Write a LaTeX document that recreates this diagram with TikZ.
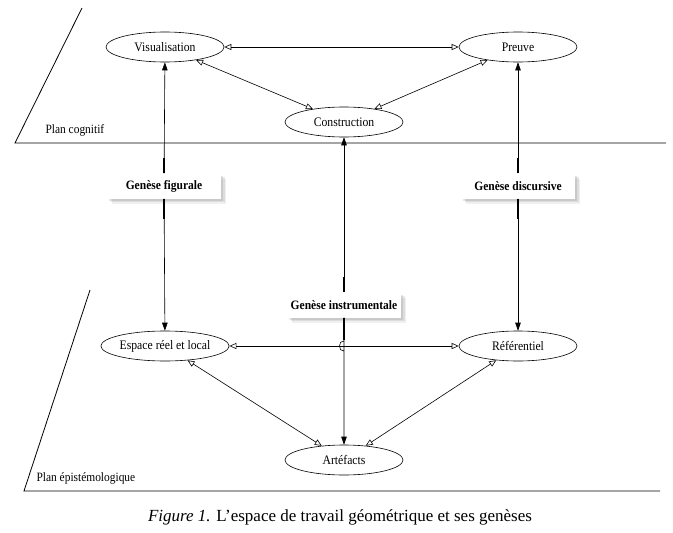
\documentclass[tikz,border=0pt]{standalone}
\usepackage{fontspec}
\setmainfont{Liberation Serif}
\newfontfamily\narrowserif[FakeStretch=0.9]{Liberation Serif}
\usetikzlibrary{shapes.geometric,arrows.meta,shadows}

\begin{document}
\begin{tikzpicture}[x=1pt,y=-1pt,
pole/.style={draw,ellipse,line width=.6pt,minimum width=118pt,minimum height=30pt,inner sep=0pt,font=\narrowserif\fontsize{13}{15}\selectfont},
genese/.style={fill=white,minimum width=114pt,minimum height=25pt,inner sep=0pt,font=\narrowserif\bfseries\fontsize{12.8}{15}\selectfont,
  drop shadow={opacity=.12,shadow xshift=5pt,shadow yshift=-5pt},
  drop shadow={opacity=.18,shadow xshift=3.5pt,shadow yshift=-3.5pt},
  drop shadow={opacity=.2,shadow xshift=2pt,shadow yshift=-2pt}},
lien/.style={line width=.6pt,{Triangle[open,length=7pt,width=6pt]}-{Triangle[open,length=7pt,width=6pt]}},
gen/.style={line width=.6pt,-{Triangle[length=8pt,width=5.5pt]}},
plan/.style={line width=.8pt},
planlabel/.style={anchor=west,font=\narrowserif\fontsize{12.7}{15}\selectfont}]
\useasboundingbox (0,0) rectangle (673,533);
%Plans
\draw[plan] (82,8) -- (15,143) -- (666,143);
\node[planlabel] (cog) at (42,130) {Plan cognitif};
\draw[plan] (90,290) -- (24,491) -- (660,491);
\node[planlabel] (epi) at (33,478) {Plan épistémologique};
%Poles
\node[pole] (vis) at (165,47) {Visualisation};
\node[pole] (preuve) at (518,47) {Preuve};
\node[pole] (constr) at (344,122) {Construction};
\node[pole] (espace) at (165,346) {Espace réel et local};
\node[pole] (ref) at (518,346) {Référentiel};
\node[pole] (art) at (344,460) {Artéfacts};
%Geneses
\node[genese] (fig) at (164,186) {Genèse figurale};
\node[genese] (disc) at (518,186) {Genèse discursive};
\node[genese] (instr) at (344,305) {Genèse instrumentale};
%Links
\draw[lien] (vis) -- (preuve);
\draw[lien] (vis) -- (constr);
\draw[lien] (constr) -- (preuve);
\draw[lien] (espace) -- (ref);
\draw[lien] (espace) -- (art);
\draw[lien] (ref) -- (art);
\draw[gen] (fig) -- (vis);
\draw[gen] (fig) -- (espace);
\draw[gen] (disc) -- (preuve);
\draw[gen] (disc) -- (ref);
\draw[gen] (instr) -- (constr);
\coordinate (saut) at (344,346);
\draw[gen] (instr.south) -- ([yshift=-5pt]saut) .. controls +(-6,1) and +(-6,-1) .. ([yshift=5pt]saut) -- (art);
%Thick ends
\draw[line width=1.5pt] (fig.north) -- ++(0,-15) (fig.south) -- ++(0,20);
\draw[line width=1.5pt] (disc.north) -- ++(0,-15) (disc.south) -- ++(0,20);
\draw[line width=1.5pt] (instr.north) -- ++(0,-15) (instr.south) -- ++(0,22);
%Caption
\node[font=\fontsize{17}{19}\selectfont] (caption) at (340,517) {\textit{Figure 1.} L’espace de travail géométrique et ses genèses};
\end{tikzpicture}
\end{document}
